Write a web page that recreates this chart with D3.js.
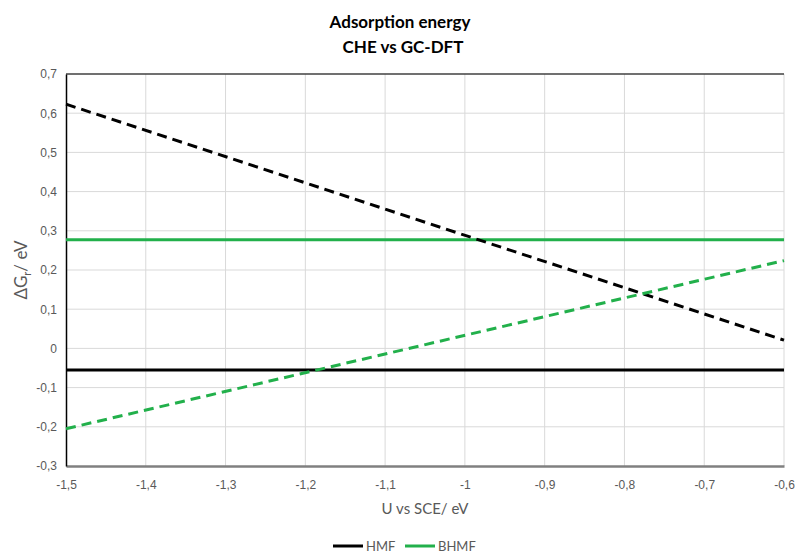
<!DOCTYPE html>
<html>
<head>
<meta charset="utf-8">
<script src="https://cdn.jsdelivr.net/npm/d3@7"></script>
<style>
  html, body { margin: 0; padding: 0; background: #fff; }
  svg { display: block; font-family: Lato, "Open Sans", sans-serif; }
</style>
</head>
<body>
<svg id="chart" width="795" height="554"></svg>
<script>
// Potential axis (U vs SCE) and energy axis ticks
const xTicks = [-1.5, -1.4, -1.3, -1.2, -1.1, -1.0, -0.9, -0.8, -0.7, -0.6];
const yTicks = [-0.3, -0.2, -0.1, 0, 0.1, 0.2, 0.3, 0.4, 0.5, 0.6, 0.7];

// CHE (constant) adsorption energies
const cheU = [-1.5, -0.6];
const cheHMF = [-0.055, -0.055];
const cheBHMF = [0.277, 0.277];

// GC-DFT (potential dependent) adsorption energies
const gcU = [-1.5, -0.6];
const gcHMF = [0.623, 0.021];
const gcBHMF = [-0.205, 0.224];

const legendNames = ["HMF", "BHMF"];
const colors = { HMF: "#000000", BHMF: "#22b04b" };

const svg = d3.select("#chart");
const margin = { left: 66, right: 11, top: 74, bottom: 88 };
const W = 795, H = 554;

const x = d3.scaleLinear().domain([-1.5, -0.6]).range([margin.left, W - margin.right]);
const y = d3.scaleLinear().domain([-0.3, 0.7]).range([H - margin.bottom, margin.top]);

const fmt = v => (Math.abs(v) < 1e-9 ? "0" : d3.format("~g")(+v.toFixed(2)).replace(".", ",").replace("−", "-"));

// gridlines
const grid = svg.append("g");
grid.selectAll("line.v").data(xTicks.slice(1)).join("line")
  .attr("x1", d => x(d)).attr("x2", d => x(d))
  .attr("y1", y(0.7)).attr("y2", y(-0.3))
  .attr("stroke", "#d9d9d9").attr("stroke-width", 1);
grid.selectAll("line.h").data(yTicks.slice(1)).join("line")
  .attr("x1", x(-1.5)).attr("x2", x(-0.6))
  .attr("y1", d => y(d)).attr("y2", d => y(d))
  .attr("stroke", d => d === 0.7 ? "#404040" : "#d9d9d9")
  .attr("stroke-width", d => d === 0.7 ? 1.5 : 1);

// axes
const xAxis = d3.axisBottom(x).tickValues(xTicks).tickSize(0).tickPadding(14).tickFormat(fmt);
const yAxis = d3.axisLeft(y).tickValues(yTicks).tickSize(0).tickPadding(9).tickFormat(fmt);

const gx = svg.append("g").attr("transform", `translate(0,${y(-0.3)})`).call(xAxis);
gx.select(".domain").attr("stroke", "#808080").attr("stroke-width", 2.5);
gx.selectAll("text").attr("fill", "#595959").attr("font-size", 12);

const gy = svg.append("g").attr("transform", `translate(${x(-1.5)},0)`).call(yAxis);
gy.select(".domain").attr("stroke", "#000").attr("stroke-width", 1.5);
gy.selectAll("text").attr("fill", "#595959").attr("font-size", 12);

// series lines
const line = d3.line().x(d => x(d[0])).y(d => y(d[1]));
const series = [
  { name: "HMF", u: cheU, v: cheHMF, dash: null },
  { name: "BHMF", u: cheU, v: cheBHMF, dash: null },
  { name: "HMF", u: gcU, v: gcHMF, dash: "10,6" },
  { name: "BHMF", u: gcU, v: gcBHMF, dash: "10,6" }
];
svg.append("g").selectAll("path").data(series).join("path")
  .attr("d", s => line(s.u.map((u, i) => [u, s.v[i]])))
  .attr("fill", "none")
  .attr("stroke", s => colors[s.name])
  .attr("stroke-width", 3)
  .attr("stroke-dasharray", s => s.dash);

// title
const title = svg.append("text").attr("x", 400).attr("text-anchor", "middle")
  .attr("font-weight", "bold").attr("font-size", 17).attr("fill", "#000");
title.append("tspan").attr("x", 400).attr("y", 28).text("Adsorption energy");
title.append("tspan").attr("x", 403).attr("y", 53).text("CHE vs GC-DFT");

// axis titles
svg.append("text").attr("x", 425).attr("y", 514).attr("text-anchor", "middle")
  .attr("font-size", 15).attr("fill", "#595959").text("U vs SCE/ eV");

const yt = svg.append("text")
  .attr("transform", `translate(27,270) rotate(-90)`)
  .attr("text-anchor", "middle").attr("font-size", 17).attr("fill", "#595959");
yt.append("tspan").text("ΔG");
yt.append("tspan").attr("font-size", 11).attr("dy", 4).text("r");
yt.append("tspan").attr("dy", -4).text("/ eV");

// legend
const legend = svg.append("g").attr("transform", "translate(333,546)");
const items = legend.selectAll("g").data(legendNames).join("g")
  .attr("transform", (d, i) => `translate(${i * 72},0)`);
items.append("line").attr("x1", 0).attr("x2", 30).attr("y1", 0).attr("y2", 0)
  .attr("stroke", d => colors[d]).attr("stroke-width", 3);
items.append("text").attr("x", 33).attr("y", 4.5).attr("font-size", 13)
  .attr("fill", "#595959").text(d => d);
</script>
</body>
</html>
